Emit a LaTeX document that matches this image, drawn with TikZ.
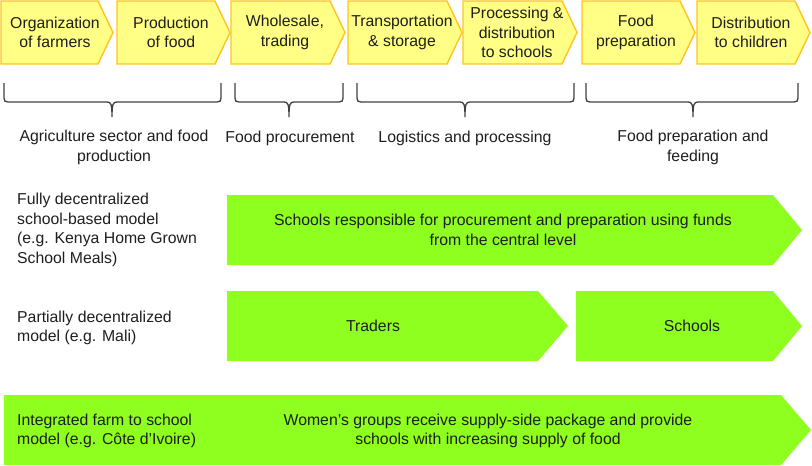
\documentclass[tikz,border=0pt]{standalone}
\usepackage{fontspec}
\setmainfont{Liberation Sans}
\definecolor{chevfill}{RGB}{255,255,133}
\definecolor{chevline}{RGB}{255,196,30}
\definecolor{armgreen}{RGB}{142,255,30}
\definecolor{txtgray}{RGB}{30,30,30}
\newcommand{\chevpath}[2]{(#1,1) -- (#2-15,1) -- (#2,32.5) -- (#2-15,64) -- (#1,64) -- cycle}
\newcommand{\armpath}[5]{(#1,#4) -- (#2,#4) -- (#3,{(#4+#5)/2}) -- (#2,#5) -- (#1,#5) -- cycle}
\newcommand{\downbrace}[3]{(#1,83) -- (#1,98) .. controls (#1,101) and (#1+1,102) .. (#1+4,102) -- (#2-5,102) .. controls (#2-1,102) and (#2,104) .. (#2,117) .. controls (#2,104) and (#2+1,102) .. (#2+5,102) -- (#3-4,102) .. controls (#3-1,102) and (#3,101) .. (#3,98) -- (#3,83)}
\begin{document}
\begin{tikzpicture}[x=1pt, y=-1pt,
                every node/.style={font=\fontsize{15.8}{19.5}\selectfont, text=txtgray, inner sep=0pt, align=center},
                chev_style/.style={fill=chevfill, draw=chevline, line width=1.4pt, line join=miter},
                arm_style/.style={fill=armgreen, draw=none},
                brace_style/.style={draw=black!75, line width=1.3pt}]
                \useasboundingbox (0,0) rectangle (812,466);
                \foreach \l/\r/\nm/\txt in {1/113/orga/{Organization\\of farmers}, 117/230/prod/{Production\\of food}, 231/345/whole/{Wholesale,\\trading}, 348/462/trans/{Transportation\\\& storage}, 463/577/proc/{Processing \&\\distribution\\to schools}, 582/695/prep/{Food\\preparation}, 697/810/distr/{Distribution\\to children}}
                {
                    \draw[chev_style] \chevpath{\l}{\r};
                    \node (\nm) at (\l+54,32.5) {\txt};
                }
                \draw[brace_style] \downbrace{4}{112}{221};
                \draw[brace_style] \downbrace{235}{289}{343};
                \draw[brace_style] \downbrace{357}{465}{574};
                \draw[brace_style] \downbrace{586}{693}{798};
                \node (agri) at (114,147.5) {Agriculture sector and food\\production};
                \node (procure) at (290,138) {Food procurement};
                \node (logist) at (465,138) {Logistics and processing};
                \node (feeding) at (693,147.5) {Food preparation and\\feeding};
                \fill[arm_style] \armpath{227}{773}{802}{195}{265};
                \fill[arm_style] \armpath{227}{538}{568}{291}{361};
                \fill[arm_style] \armpath{576}{773}{802}{291}{361};
                \fill[arm_style] \armpath{4}{781}{811}{395}{465};
                \node[anchor=west, align=left] (fully) at (17,230) {Fully decentralized\\school-based model\\(e.g. Kenya Home Grown\\School Meals)};
                \node[anchor=west, align=left] (partial) at (17,328) {Partially decentralized\\model (e.g. Mali)};
                \node[anchor=west, align=left] (integ) at (17,431) {Integrated farm to school\\model (e.g. Côte d’Ivoire)};
                \node (central) at (503,230) {Schools responsible for procurement and preparation using funds\\from the central level};
                \node (traders) at (373,326) {Traders};
                \node (schools) at (692,326) {Schools};
                \node (women) at (488,431) {Women’s groups receive supply-side package and provide\\schools with increasing supply of food};
            \end{tikzpicture}
\end{document}
